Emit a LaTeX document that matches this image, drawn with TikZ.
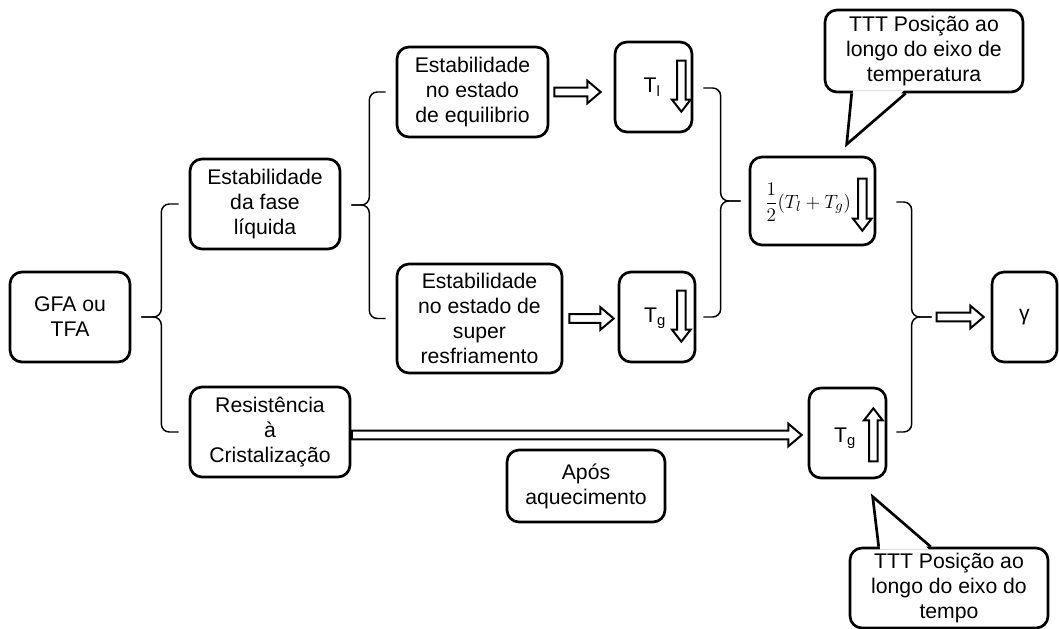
\documentclass[tikz,border=0pt]{standalone}
\usepackage{fontspec}
\setmainfont{Liberation Sans}
\usetikzlibrary{calc}
\newdimen\pxu
\pxu=0.75pt
\tikzset{
  box/.style={draw, line width=2pt, rounded corners=9pt, inner sep=0pt, align=center,
    font=\fontsize{15.9}{18.75}\selectfont},
  lab/.style={inner sep=0pt, font=\fontsize{15.9}{18.75}\selectfont},
  barrow/.style={draw, line width=1.5pt, fill=white, line join=miter},
  bracel/.style={draw, line width=1.1pt, rounded corners=6pt},
  tail/.style={draw, line width=2pt, line join=miter},
  sz/.style n args={2}{minimum width=#1\pxu, minimum height=#2\pxu}
}
\newcommand\blkH[2]{\draw[barrow] let \p1=(#1), \p2=(#2) in
  (\x1,{\y1+3.2pt}) -- ({\x2-10pt},{\y1+3.2pt}) -- ({\x2-10pt},{\y1+8.5pt}) -- (\x2,\y1)
  -- ({\x2-10pt},{\y1-8.5pt}) -- ({\x2-10pt},{\y1-3.2pt}) -- (\x1,{\y1-3.2pt}) -- cycle;}
\newcommand\blkD[2]{\draw[barrow] let \p1=(#1), \p2=(#2) in
  ({\x1-3.2pt},\y1) -- ({\x1-3.2pt},{\y2+9pt}) -- ({\x1-7pt},{\y2+9pt}) -- (\x1,\y2)
  -- ({\x1+7pt},{\y2+9pt}) -- ({\x1+3.2pt},{\y2+9pt}) -- ({\x1+3.2pt},\y1) -- cycle;}
\newcommand\blkU[2]{\draw[barrow] let \p1=(#1), \p2=(#2) in
  ({\x1-3.2pt},\y1) -- ({\x1-3.2pt},{\y2-9pt}) -- ({\x1-7pt},{\y2-9pt}) -- (\x1,\y2)
  -- ({\x1+7pt},{\y2-9pt}) -- ({\x1+3.2pt},{\y2-9pt}) -- ({\x1+3.2pt},\y1) -- cycle;}
\begin{document}
\begin{tikzpicture}[x=0.75pt, y=-0.75pt]
\useasboundingbox (0,0) rectangle (1059,628);

% boxes
\node[box, sz={120}{90}] (gfa) at (70,317) {GFA ou\\TFA};
\node[box, sz={150}{90}] (fase) at (265,204) {Estabilidade\\da fase\\líquida};
\node[box, sz={160}{90}] (resist) at (270,432) {Resistência\\à\\Cristalização};
\node[box, sz={151}{90}] (equil) at (472.5,92) {Estabilidade\\no estado\\de equilibrio};
\node[box, sz={165}{109}] (super) at (479.5,318.5) {Estabilidade\\no estado de\\super\\resfriamento};
\node[box, sz={77}{90}] (tl) at (653.5,87) {};
\node[box, sz={76}{90}] (tg) at (657,317) {};
\node[box, sz={125}{88}] (half) at (812.5,201) {};
\node[box, sz={77}{90}] (tgup) at (847.5,433) {};
\node[box, sz={65}{90}] (gamma) at (1024.5,317) {γ};
\node[box, sz={158}{72}] (apos) at (586,486) {Após\\aquecimento};
\node[box, sz={198}{82}] (call1) at (924,51) {TTT Posição ao\\longo do eixo de\\temperatura};
\node[box, sz={198}{80}] (call2) at (949,588) {TTT Posição ao\\longo do eixo do\\tempo};

% labels inside small boxes
\node[lab] (tllab) at (652,87) {T\textsubscript{l}};
\node[lab] (tglab) at (655,318) {T\textsubscript{g}};
\node[lab] (tguplab) at (845,438) {T\textsubscript{g}};
\node[inner sep=0pt, font=\fontsize{15}{18}\selectfont] (halflab) at (808,202) {$\displaystyle\frac{1}{2}(T_l+T_g)$};

% arrows inside boxes
\blkD{$(tl.north east)+(-12,20)$}{$(tl.north east)+(-12,71)$}
\blkD{$(tg.north east)+(-15,20)$}{$(tg.north east)+(-15,71)$}
\blkD{$(half.north east)+(-14,23)$}{$(half.north east)+(-14,75)$}
\blkU{$(tgup.south east)+(-14,-18)$}{$(tgup.south east)+(-14,-71)$}

% horizontal block arrows
\blkH{$(equil.east)+(5,0)$}{$(tl.west)+(-13,0)$}
\blkH{$(super.east)+(6,0)$}{$(tg.west)+(-4,0)$}
\blkH{$(resist.east)+(0.5,3)$}{$(tgup.west)+(-6,2)$}

% braces
\coordinate (b1tip) at ($(gfa.east)+(10,0)$);
\draw[bracel] ($(fase.west)+(-10,0)$) -| ($(b1tip)+(20,0)$) -- (b1tip);
\draw[bracel] ($(resist.west)+(-10,0)$) -| ($(b1tip)+(20,0)$) -- (b1tip);

\coordinate (b2tip) at ($(fase.east)+(10,1)$);
\draw[bracel] ($(equil.west)+(-10,0)$) -| ($(b2tip)+(18,0)$) -- (b2tip);
\draw[bracel] ($(super.west)+(-10,0)$) -| ($(b2tip)+(18,0)$) -- (b2tip);

\coordinate (b3tip) at ($(half.west)+(-8,0)$);
\draw[bracel] ($(tl.east)+(10,1)$) -| ($(b3tip)+(-20,0)$) -- (b3tip);
\draw[bracel] ($(tg.east)+(7,0)$) -| ($(b3tip)+(-20,0)$) -- (b3tip);

\coordinate (b4tip) at ($(gamma.west)+(-59,0)$);
\draw[bracel] ($(half.east)+(20,1)$) -| ($(b4tip)+(-20,0)$) -- (b4tip);
\draw[bracel] ($(tgup.east)+(9,-1)$) -| ($(b4tip)+(-20,0)$) -- (b4tip);

\blkH{$(b4tip)+(5,0)$}{$(gamma.west)+(-7,0)$}

% callout tails
\coordinate (c1a) at ($(call1.south west)+(28,0)$);
\coordinate (c1b) at ($(call1.south west)+(82,0)$);
\coordinate (c1tip) at ($(call1.south west)+(23,51)$);
\fill[white] ($(c1a)+(1.5,-3)$) -- (c1tip) -- ($(c1b)+(-1.5,-3)$) -- cycle;
\draw[tail] (c1a) -- (c1tip) -- (c1b);

\coordinate (c2a) at ($(call2.north west)+(30,0)$);
\coordinate (c2b) at ($(call2.north west)+(82,0)$);
\coordinate (c2tip) at ($(call2.north west)+(24,-50)$);
\fill[white] ($(c2a)+(1.5,3)$) -- (c2tip) -- ($(c2b)+(-1.5,3)$) -- cycle;
\draw[tail] (c2a) -- (c2tip) -- (c2b);
\end{tikzpicture}
\end{document}
